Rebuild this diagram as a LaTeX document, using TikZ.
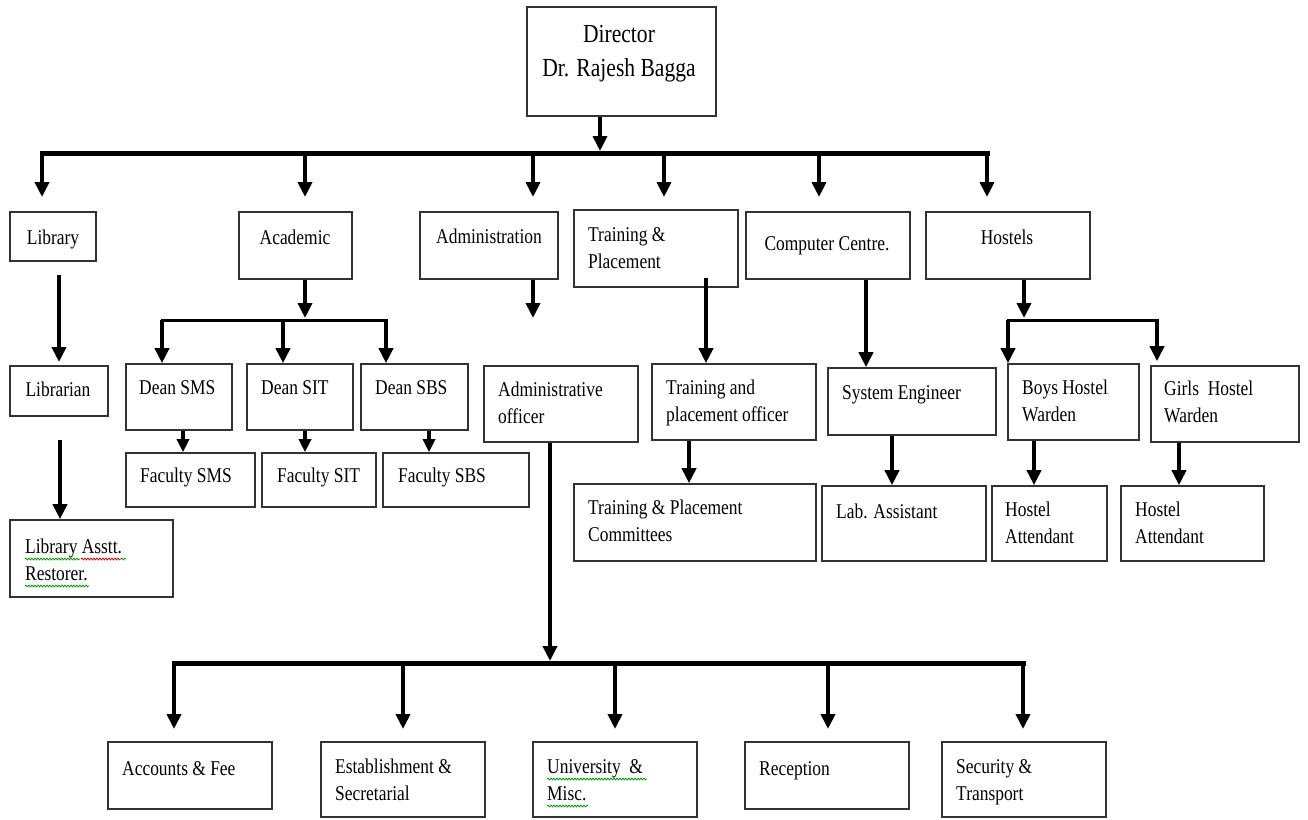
\documentclass[tikz,border=0pt]{standalone}
\usepackage{fontspec}
\setmainfont[FakeStretch=0.83]{Liberation Serif}
\usetikzlibrary{arrows.meta,fit,decorations.pathmorphing}
\begin{document}
\begin{tikzpicture}[x=1pt,y=-1pt,
  box/.style={draw=black!80, line width=1.6pt, inner sep=0pt, rectangle},
  txt/.style={inner sep=0pt, font=\fontsize{21}{27}\selectfont, align=left,
    execute at begin node=\strut, execute at end node=\strut},
  ctxt/.style={txt, align=center},
  dtxt/.style={inner sep=0pt, font=\fontsize{26}{34}\selectfont, align=center,
    execute at begin node=\strut, execute at end node=\strut},
  arr/.style={line width=4pt, -{Triangle[width=14pt,length=15pt]}},
  sarr/.style={line width=4pt, -{Triangle[width=12pt,length=13pt]}},
  busl/.style={line width=5pt, line cap=rect},
  sbus/.style={line width=3pt, line cap=rect},
  squig/.style={line width=0.8pt, decorate, decoration={snake, segment length=3pt, amplitude=0.9pt}},
]
\useasboundingbox (0,0) rectangle (1308,819);

% ---------- boxes ----------
\node[box, fit={(527,7)(716,116)}] (dir) {};
\node[box, fit={(10,212)(96,261)}] (lib) {};
\node[box, fit={(239,212)(352,279)}] (aca) {};
\node[box, fit={(420,212)(558,279)}] (adm) {};
\node[box, fit={(574,210)(738,287)}] (tp) {};
\node[box, fit={(746,212)(910,279)}] (cc) {};
\node[box, fit={(926,212)(1090,279)}] (hos) {};
\node[box, fit={(10,366)(108,416)}] (libn) {};
\node[box, fit={(10,520)(173,597)}] (asst) {};
\node[box, fit={(126,364)(232,430)}] (dsms) {};
\node[box, fit={(247,364)(353,430)}] (dsit) {};
\node[box, fit={(361,364)(468,430)}] (dsbs) {};
\node[box, fit={(126,453)(255,507)}] (fsms) {};
\node[box, fit={(262,453)(376,507)}] (fsit) {};
\node[box, fit={(383,453)(529,507)}] (fsbs) {};
\node[box, fit={(484,366)(638,442)}] (ao) {};
\node[box, fit={(652,364)(816,440)}] (tpo) {};
\node[box, fit={(574,484)(816,561)}] (tpc) {};
\node[box, fit={(828,368)(996,435)}] (se) {};
\node[box, fit={(822,486)(986,561)}] (lab) {};
\node[box, fit={(1008,364)(1139,440)}] (bhw) {};
\node[box, fit={(1151,366)(1299,442)}] (ghw) {};
\node[box, fit={(992,486)(1107,561)}] (ha1) {};
\node[box, fit={(1121,486)(1264,561)}] (ha2) {};
\node[box, fit={(108,742)(272,809)}] (acc) {};
\node[box, fit={(321,742)(485,817)}] (est) {};
\node[box, fit={(533,742)(697,817)}] (uni) {};
\node[box, fit={(745,742)(909,809)}] (rec) {};
\node[box, fit={(942,742)(1106,817)}] (sec) {};

% ---------- texts ----------
\node[dtxt] (dirT) at (619,56) {Director\\Dr. Rajesh Bagga};
\node[ctxt] (libT) at (53,239) {Library};
\node[ctxt] (acaT) at (295,239) {Academic};
\node[ctxt] (admT) at (489,238) {Administration};
\node[txt, anchor=west] (tpT) at (588,252) {Training \&\\Placement};
\node[ctxt] (ccT) at (827,245) {Computer Centre.};
\node[ctxt] (hosT) at (1007,239) {Hostels};
\node[ctxt] (libnT) at (58,391) {Librarian};
\node[txt, anchor=west] (asstT) at (25,564) {Library Asstt.\\Restorer.};
\node[txt, anchor=west] (dsmsT) at (139,389) {Dean SMS};
\node[txt, anchor=west] (dsitT) at (261,389) {Dean SIT};
\node[txt, anchor=west] (dsbsT) at (375,389) {Dean SBS};
\node[txt, anchor=west] (fsmsT) at (140,477) {Faculty SMS};
\node[txt, anchor=west] (fsitT) at (277,477) {Faculty SIT};
\node[txt, anchor=west] (fsbsT) at (398,477) {Faculty SBS};
\node[txt, anchor=west] (aoT) at (498,407) {Administrative\\officer};
\node[txt, anchor=west] (tpoT) at (666,405) {Training and\\placement officer};
\node[txt, anchor=west] (tpcT) at (588,525) {Training \& Placement\\Committees};
\node[txt, anchor=west] (seT) at (842,394) {System Engineer};
\node[txt, anchor=west] (labT) at (836,513) {Lab. Assistant};
\node[txt, anchor=west] (bhwT) at (1022,405) {Boys Hostel\\Warden};
\node[txt, anchor=west] (ghwT) at (1164,406) {Girls\ \ Hostel\\Warden};
\node[txt, anchor=west] (ha1T) at (1005,527) {Hostel\\Attendant};
\node[txt, anchor=west] (ha2T) at (1135,527) {Hostel\\Attendant};
\node[txt, anchor=west] (accT) at (122,770) {Accounts \& Fee};
\node[txt, anchor=west] (estT) at (335,784) {Establishment \&\\Secretarial};
\node[txt, anchor=west] (uniT) at (547,784) {University\ \ \&\\Misc.};
\node[txt, anchor=west] (recT) at (759,770) {Reception};
\node[txt, anchor=west] (secT) at (956,784) {Security \&\\Transport};

% spell-check squiggles
\draw[squig, green!60!black] (25,559) -- (80,559);
\draw[squig, red!85!black] (81,559) -- (121,559);
\draw[squig, green!60!black] (121,559) -- (126,559);
\draw[squig, green!60!black] (25,586) -- (89,586);
\draw[squig, green!60!black] (547,779) -- (647,779);
\draw[squig, green!60!black] (547,806) -- (588,806);

% ---------- top level connectors ----------
\coordinate (tb) at (600,153);
\coordinate (tbL) at (42,153);
\coordinate (tbR) at (987,153);
\coordinate (libIn) at (42,197);
\coordinate (acaIn) at (305,197);
\coordinate (admIn) at (533,197);
\coordinate (tpIn) at (664,197);
\coordinate (ccIn) at (819,197);
\coordinate (hosIn) at (987,197);
\coordinate (tbTip) at (600,151);
\draw[arr] (dir.south -| tb) -- (tbTip);
\draw[busl] (tbL) -- (tbR);
\foreach \c in {libIn,acaIn,admIn,tpIn,ccIn,hosIn}
  \draw[arr] (tb -| \c) -- (\c);

% Library column
\coordinate (libA) at (59,275);
\coordinate (libB) at (59,362);
\draw[arr] (libA) -- (libB);
\coordinate (librA) at (60,440);
\draw[arr] (librA) -- (asst.north -| librA);

% Academic
\coordinate (ab) at (305,320);
\coordinate (abL) at (162,320);
\coordinate (abR) at (386,320);
\coordinate (abM) at (283,320);
\coordinate (abTip) at (305,318);
\draw[arr] (aca.south -| ab) -- (abTip);
\draw[sbus] (abL) -- (abR);
\draw[arr] (abL) -- (dsms.north -| abL);
\draw[arr] (abM) -- (dsit.north -| abM);
\draw[arr] (abR) -- (dsbs.north -| abR);
\coordinate (f1) at (183,0);
\coordinate (f2) at (305,0);
\coordinate (f3) at (429,0);
\draw[sarr] (dsms.south -| f1) -- (fsms.north -| f1);
\draw[sarr] (dsit.south -| f2) -- (fsit.north -| f2);
\draw[sarr] (dsbs.south -| f3) -- (fsbs.north -| f3);

% Administration
\coordinate (admTip) at (533,318);
\draw[arr] (adm.south -| admTip) -- (admTip);
\coordinate (bb) at (550,663);
\coordinate (bbTip) at (550,661);
\coordinate (bbL) at (174,663);
\coordinate (bbR) at (1023,663);
\draw[arr] (ao.south -| bb) -- (bbTip);
\draw[busl] (bbL) -- (bbR);
\coordinate (accIn) at (174,729);
\coordinate (estIn) at (403,729);
\coordinate (uniIn) at (615,729);
\coordinate (recIn) at (828,729);
\coordinate (secIn) at (1023,729);
\foreach \c in {accIn,estIn,uniIn,recIn,secIn}
  \draw[arr] (bb -| \c) -- (\c);

% Training & Placement
\coordinate (tpA) at (706,278);
\draw[arr] (tpA) -- (tpo.north -| tpA);
\coordinate (tpB) at (689,0);
\draw[arr] (tpo.south -| tpB) -- (tpc.north -| tpB);

% Computer Centre
\coordinate (ccA) at (866,0);
\draw[arr] (cc.south -| ccA) -- (se.north -| ccA);
\coordinate (seA) at (892,0);
\draw[arr] (se.south -| seA) -- (lab.north -| seA);

% Hostels
\coordinate (hb) at (1024,320);
\coordinate (hbTip) at (1024,318);
\coordinate (hbL) at (1008,320);
\coordinate (hbR) at (1157,320);
\draw[arr] (hos.south -| hb) -- (hbTip);
\draw[sbus] (hbL) -- (hbR);
\draw[arr] (hbL) -- (bhw.north -| hbL);
\draw[arr] (hbR) -- ([yshift=4pt]ghw.north -| hbR);
\coordinate (hA) at (1034,0);
\coordinate (hB) at (1179,0);
\draw[arr] (bhw.south -| hA) -- (ha1.north -| hA);
\draw[arr] (ghw.south -| hB) -- (ha2.north -| hB);
\end{tikzpicture}
\end{document}
